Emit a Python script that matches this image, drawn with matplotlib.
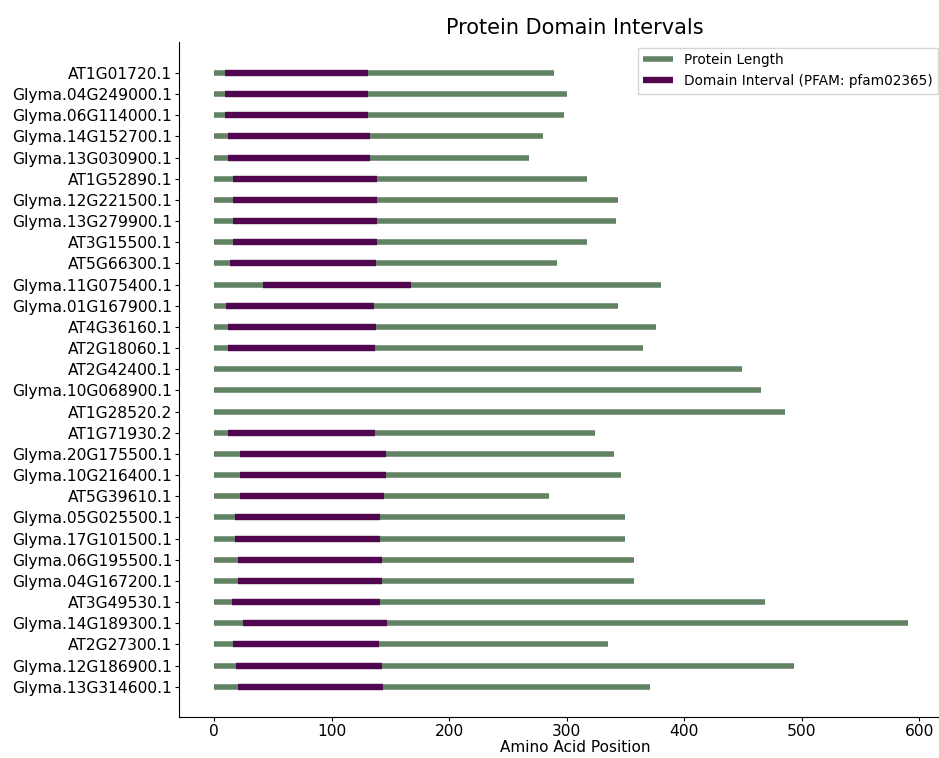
import matplotlib
matplotlib.use("Agg")
import matplotlib.pyplot as plt
import numpy as np

genes = ["AT1G01720.1", "Glyma.04G249000.1", "Glyma.06G114000.1", "Glyma.14G152700.1",
         "Glyma.13G030900.1", "AT1G52890.1", "Glyma.12G221500.1", "Glyma.13G279900.1",
         "AT3G15500.1", "AT5G66300.1", "Glyma.11G075400.1", "Glyma.01G167900.1",
         "AT4G36160.1", "AT2G18060.1", "AT2G42400.1", "Glyma.10G068900.1",
         "AT1G28520.2", "AT1G71930.2", "Glyma.20G175500.1", "Glyma.10G216400.1",
         "AT5G39610.1", "Glyma.05G025500.1", "Glyma.17G101500.1", "Glyma.06G195500.1",
         "Glyma.04G167200.1", "AT3G49530.1", "Glyma.14G189300.1", "AT2G27300.1",
         "Glyma.12G186900.1", "Glyma.13G314600.1"]

protein_len = [289, 300, 298, 280, 268, 317, 344, 342, 317, 292,
               380, 344, 376, 365, 449, 465, 486, 324, 340, 346,
               285, 350, 350, 357, 357, 469, 590, 335, 493, 371]

# PFAM pfam02365 (NAM) domain start / end, None where no domain found
dom_start = [9, 9, 9, 12, 12, 16, 16, 16, 16, 14,
             42, 10, 12, 12, None, None, None, 12, 22, 22,
             22, 18, 18, 20, 20, 15, 25, 16, 19, 20]
dom_end = [131, 131, 131, 133, 133, 139, 139, 139, 139, 138,
           168, 136, 138, 137, None, None, None, 137, 146, 146,
           145, 141, 141, 143, 143, 141, 147, 140, 143, 144]

green = "#628264"
purple = "#50074f"

fig = plt.figure(figsize=(9.39, 7.58), dpi=100)
ax_w = (971 - 179) / 939
ax = fig.add_axes([179 / 939, 1 - 717 / 758, ax_w, (717 - 42) / 758])

y = np.arange(len(genes))
ax.hlines(y, 0, protein_len, color=green, linewidth=4, label="Protein Length")
first = True
for yi, s, e in zip(y, dom_start, dom_end):
    if s is None:
        continue
    ax.hlines(yi, s, e, color=purple, linewidth=4.6,
              label="Domain Interval (PFAM: pfam02365)" if first else None)
    first = False

ax.set_yticks(y)
ax.set_yticklabels(genes, fontsize=11.2)
ax.set_ylim(len(genes) - 1 + 1.43, -1.46)
ax.set_xlim(-29.8, 644)
ax.set_xticks([0, 100, 200, 300, 400, 500, 600])
ax.tick_params(axis="x", labelsize=11.2, length=3, pad=2)
ax.tick_params(axis="y", length=3, pad=2)
ax.spines["top"].set_visible(False)
ax.spines["right"].set_visible(False)

ax.set_xlabel("Amino Acid Position", fontsize=11, labelpad=1)
ax.set_title("Protein Domain Intervals", fontsize=15, pad=6)
ax.legend(loc="upper right", bbox_to_anchor=((945 - 179) / 939 / ax_w * (939 / 939), 1.0 + 1 / 675),
          fontsize=9.8, frameon=True, fancybox=False, handlelength=2.2)

fig.savefig("out.png", dpi=100)
